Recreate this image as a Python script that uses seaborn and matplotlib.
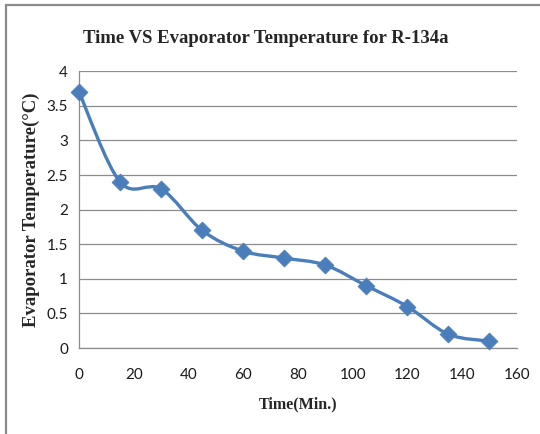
import numpy as np
import pandas as pd
import seaborn as sns
import matplotlib
matplotlib.use("Agg")
import matplotlib.pyplot as plt
from matplotlib.path import Path
from matplotlib.patches import PathPatch
from matplotlib.lines import Line2D

# Evaporator temperature readings for R-134a
time_min = [0, 15, 30, 45, 60, 75, 90, 105, 120, 135, 150]
evap_temp = [3.7, 2.4, 2.3, 1.7, 1.4, 1.3, 1.2, 0.9, 0.6, 0.2, 0.1]
x_ticks = [0, 20, 40, 60, 80, 100, 120, 140, 160]
y_ticks = [0, 0.5, 1, 1.5, 2, 2.5, 3, 3.5, 4]
y_tick_labels = ["0", "0.5", "1", "1.5", "2", "2.5", "3", "3.5", "4"]

df = pd.DataFrame({"Time": time_min, "Temp": evap_temp})

sns.set_theme(style="white")
plt.rcParams["font.family"] = ["Lato", "DejaVu Sans"]

blue = "#4A7EBB"
grid_gray = "#8C8C8C"

fig = plt.figure(figsize=(5.40, 4.34), dpi=100)
ax = fig.add_axes([0.1463, 0.198, 0.8107, 0.638])

# Smoothed connecting curve: cubic Bezier segments through the data points
pts = np.column_stack([df["Time"].to_numpy(float), df["Temp"].to_numpy(float)])
n = len(pts)
verts = [tuple(pts[0])]
codes = [Path.MOVETO]
for i in range(n - 1):
    p0 = pts[i - 1] if i > 0 else pts[i]
    p1 = pts[i]
    p2 = pts[i + 1]
    p3 = pts[i + 2] if i + 2 < n else pts[i + 1]
    c1 = p1 + (p2 - p0) / 6.0
    c2 = p2 - (p3 - p1) / 6.0
    verts += [tuple(c1), tuple(c2), tuple(p2)]
    codes += [Path.CURVE4] * 3
ax.add_patch(PathPatch(Path(verts, codes), facecolor="none", edgecolor=blue,
                       lw=2.4, capstyle="round", joinstyle="round", zorder=3))

sns.scatterplot(data=df, x="Time", y="Temp", marker="D", s=75, color=blue,
                edgecolor=blue, linewidth=0.5, ax=ax, zorder=4, clip_on=False)

ax.set_xlim(0, 160)
ax.set_ylim(0, 4)
ax.set_xticks(x_ticks)
ax.set_yticks(y_ticks)
ax.set_yticklabels(y_tick_labels)
ax.tick_params(axis="both", length=0, labelsize=11, colors="#1a1a1a")
ax.tick_params(axis="x", pad=14)
ax.tick_params(axis="y", pad=8)
ax.yaxis.grid(True, color=grid_gray, lw=0.9)
ax.xaxis.grid(False)
for side in ["top", "right"]:
    ax.spines[side].set_visible(False)
for side in ["left", "bottom"]:
    ax.spines[side].set_color(grid_gray)
    ax.spines[side].set_linewidth(0.9)

ax.set_xlabel("Time(Min.)", family="Liberation Serif", fontweight="bold",
              fontsize=11.5, labelpad=11)
ax.set_ylabel("Evaporator Temperature(°C)", family="Liberation Serif",
              fontweight="bold", fontsize=13.5, labelpad=5)

fig.text(0.493, 0.912, "Time VS Evaporator Temperature for R-134a",
         family="Liberation Serif", fontweight="bold", fontsize=13.5,
         ha="center", va="center")

# Chart frame (top and left edges)
fig.add_artist(Line2D([6 / 540, 6 / 540], [0, 1 - 5 / 434], color="#8a8a8a",
                      lw=1.6, transform=fig.transFigure))
fig.add_artist(Line2D([6 / 540, 1], [1 - 5 / 434, 1 - 5 / 434], color="#8a8a8a",
                      lw=1.6, transform=fig.transFigure))

fig.savefig("out.png", dpi=100, facecolor="white")
